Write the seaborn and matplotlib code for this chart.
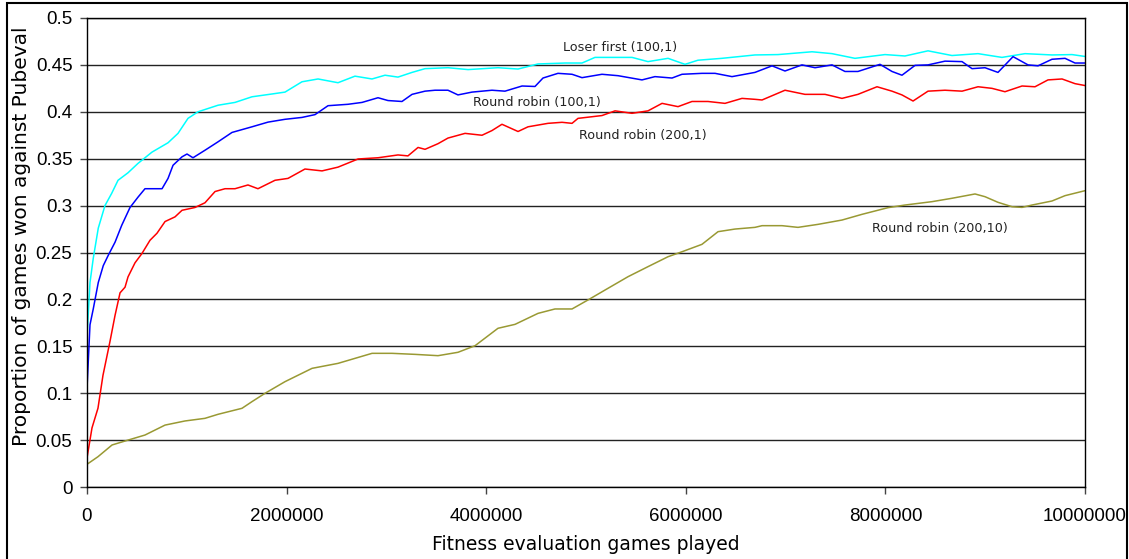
import matplotlib
matplotlib.use("Agg")
import matplotlib.pyplot as plt
import seaborn as sns
import pandas as pd
from matplotlib.patches import Rectangle

# ---------------- data ----------------
cyan_x = [0, 30000, 63000, 113000, 180000, 247000, 311000, 411000, 511000, 651000,
          812000, 912000, 1012000, 1112000, 1313000, 1483000, 1653000, 1854000, 1984000,
          2154000, 2315000, 2515000, 2685000, 2856000, 2986000, 3116000, 3257000, 3387000,
          3617000, 3818000, 4118000, 4319000, 4519000, 4790000, 4960000, 5090000, 5291000,
          5461000, 5621000, 5822000, 5992000, 6122000, 6362000, 6693000, 6924000, 7265000,
          7465000, 7695000, 7996000, 8196000, 8427000, 8667000, 8928000, 9168000, 9399000,
          9669000, 9870000, 10000000]
cyan_y = [0.160, 0.218, 0.244, 0.276, 0.300, 0.313, 0.327, 0.335, 0.345, 0.357,
          0.367, 0.377, 0.393, 0.400, 0.407, 0.410, 0.416, 0.419, 0.421,
          0.432, 0.435, 0.431, 0.438, 0.435, 0.439, 0.437, 0.442, 0.446,
          0.447, 0.445, 0.447, 0.4456, 0.451, 0.452, 0.452, 0.458, 0.458,
          0.458, 0.4535, 0.457, 0.4506, 0.455, 0.457, 0.4606, 0.461, 0.464,
          0.462, 0.457, 0.461, 0.4595, 0.465, 0.460, 0.462, 0.458, 0.462,
          0.4606, 0.461, 0.459]

blue_x = [0, 30000, 63000, 113000, 163000, 213000, 281000, 348000, 431000, 511000,
          581000, 752000, 812000, 862000, 952000, 1002000, 1062000, 1182000, 1313000,
          1453000, 1653000, 1814000, 1984000, 2154000, 2285000, 2415000, 2615000, 2756000,
          2916000, 3016000, 3156000, 3257000, 3387000, 3487000, 3617000, 3717000, 3858000,
          4058000, 4188000, 4359000, 4489000, 4569000, 4719000, 4860000, 4960000, 5160000,
          5321000, 5561000, 5691000, 5862000, 5962000, 6162000, 6293000, 6463000, 6693000,
          6864000, 6994000, 7164000, 7295000, 7465000, 7595000, 7725000, 7946000, 8066000,
          8166000, 8297000, 8427000, 8597000, 8768000, 8868000, 8998000, 9128000, 9279000,
          9429000, 9529000, 9669000, 9800000, 9900000, 10000000]
blue_y = [0.105, 0.173, 0.190, 0.218, 0.236, 0.247, 0.261, 0.279, 0.298, 0.309,
          0.318, 0.318, 0.329, 0.343, 0.352, 0.355, 0.351, 0.359, 0.368,
          0.378, 0.384, 0.389, 0.392, 0.394, 0.397, 0.4065, 0.408, 0.410,
          0.415, 0.412, 0.411, 0.4186, 0.422, 0.423, 0.423, 0.418, 0.421,
          0.423, 0.422, 0.4275, 0.427, 0.436, 0.441, 0.440, 0.4364, 0.440,
          0.4385, 0.434, 0.4375, 0.436, 0.440, 0.441, 0.441, 0.4375, 0.442,
          0.449, 0.4435, 0.450, 0.447, 0.450, 0.443, 0.443, 0.4506, 0.443,
          0.439, 0.4495, 0.450, 0.454, 0.4535, 0.446, 0.447, 0.442, 0.4588,
          0.450, 0.449, 0.456, 0.457, 0.452, 0.452]

red_x = [0, 50000, 110000, 160000, 230000, 281000, 331000, 381000, 411000, 481000,
         551000, 631000, 701000, 782000, 882000, 952000, 1082000, 1182000, 1283000,
         1383000, 1483000, 1613000, 1713000, 1884000, 2014000, 2184000, 2355000, 2515000,
         2716000, 2916000, 3116000, 3216000, 3317000, 3387000, 3517000, 3617000, 3788000,
         3958000, 4058000, 4158000, 4319000, 4419000, 4619000, 4760000, 4860000, 4920000,
         5160000, 5291000, 5461000, 5621000, 5762000, 5922000, 6062000, 6222000, 6393000,
         6563000, 6693000, 6764000, 6994000, 7194000, 7395000, 7565000, 7725000, 7916000,
         8066000, 8166000, 8277000, 8427000, 8597000, 8768000, 8928000, 9068000, 9198000,
         9369000, 9499000, 9629000, 9770000, 9900000, 10000000]
red_y = [0.031, 0.063, 0.084, 0.119, 0.155, 0.183, 0.207, 0.213, 0.224, 0.239,
         0.249, 0.263, 0.2705, 0.283, 0.288, 0.295, 0.298, 0.303, 0.315,
         0.318, 0.318, 0.322, 0.318, 0.327, 0.329, 0.339, 0.337, 0.341,
         0.3497, 0.351, 0.354, 0.353, 0.362, 0.360, 0.366, 0.372, 0.377,
         0.375, 0.380, 0.3867, 0.379, 0.384, 0.3877, 0.3888, 0.3877, 0.393,
         0.396, 0.401, 0.3984, 0.401, 0.409, 0.4055, 0.411, 0.411, 0.409,
         0.4143, 0.4133, 0.4126, 0.423, 0.4186, 0.4186, 0.4143, 0.4186, 0.4267,
         0.422, 0.418, 0.4115, 0.422, 0.423, 0.422, 0.4267, 0.425, 0.4214,
         0.4275, 0.4267, 0.434, 0.435, 0.430, 0.428]

olive_x = [0, 110000, 251000, 411000, 581000, 782000, 982000, 1182000, 1313000, 1553000,
           1653000, 1784000, 1984000, 2255000, 2515000, 2856000, 3056000, 3287000, 3517000,
           3717000, 3888000, 4118000, 4289000, 4519000, 4689000, 4860000, 5020000, 5220000,
           5421000, 5621000, 5822000, 5962000, 6162000, 6323000, 6493000, 6693000, 6764000,
           6964000, 7124000, 7325000, 7565000, 7766000, 8026000, 8196000, 8467000, 8667000,
           8898000, 8998000, 9128000, 9269000, 9369000, 9469000, 9669000, 9800000, 10000000]
olive_y = [0.0242, 0.0323, 0.0448, 0.050, 0.0554, 0.066, 0.0704, 0.0732, 0.0775, 0.0839,
           0.091, 0.0999, 0.1123, 0.1265, 0.1318, 0.1425, 0.1425, 0.1414, 0.140,
           0.1436, 0.1506, 0.1692, 0.1734, 0.1851, 0.1898, 0.1898, 0.1994, 0.2118,
           0.2242, 0.2349, 0.2455, 0.2508, 0.2587, 0.2722, 0.275, 0.2768, 0.2786,
           0.2786, 0.2768, 0.280, 0.2846, 0.2907, 0.2978, 0.3006, 0.3042, 0.3078,
           0.3124, 0.3095, 0.3035, 0.2988, 0.2981, 0.3006, 0.3049, 0.3106, 0.3159]

series_names = ["Loser first (100,1)", "Round robin (100,1)",
                "Round robin (200,1)", "Round robin (200,10)"]
series_colors = ["#00FFFF", "#0000FF", "#FF0000", "#999933"]

x_ticks = [0, 2000000, 4000000, 6000000, 8000000, 10000000]
x_tick_labels = ["0", "2000000", "4000000", "6000000", "8000000", "10000000"]
y_ticks = [0, 0.05, 0.1, 0.15, 0.2, 0.25, 0.3, 0.35, 0.4, 0.45, 0.5]
y_tick_labels = ["0", "0.05", "0.1", "0.15", "0.2", "0.25", "0.3", "0.35", "0.4", "0.45", "0.5"]

x_label = "Fitness evaluation games played"
y_label = "Proportion of games won against Pubeval"

# label anchor positions (data coords)
label_x = [5340000, 4510000, 5570000, 8550000]
label_y = [0.469, 0.410, 0.375, 0.276]

# ---------------- build frame ----------------
frames = []
for name, xs, ys in zip(series_names,
                        [cyan_x, blue_x, red_x, olive_x],
                        [cyan_y, blue_y, red_y, olive_y]):
    frames.append(pd.DataFrame({"games": xs, "prop": ys, "series": name}))
df = pd.concat(frames, ignore_index=True)

sns.set_theme(style="white")
plt.rcParams["font.family"] = ["Liberation Sans", "DejaVu Sans"]

fig = plt.figure(figsize=(11.29, 5.59), dpi=100)
ax = fig.add_axes([87 / 1129, 1 - 487 / 559, (1085 - 87) / 1129, (487 - 18) / 559])

sns.lineplot(data=df, x="games", y="prop", hue="series", hue_order=series_names,
             palette=dict(zip(series_names, series_colors)), estimator=None,
             linewidth=1.1, legend=False, ax=ax, sort=True)

ax.set_xlim(0, 10000000)
ax.set_ylim(0, 0.5)
ax.set_xticks(x_ticks)
ax.set_xticklabels(x_tick_labels)
ax.set_yticks(y_ticks)
ax.set_yticklabels(y_tick_labels)
ax.tick_params(axis="both", direction="out", length=5, width=1, color="#444444",
               labelsize=13.5, labelcolor="black", left=True, bottom=True)
ax.tick_params(axis="y", pad=5.5)
ax.tick_params(axis="x", pad=10)
ax.yaxis.grid(True, color="#222222", linewidth=1.0)
ax.xaxis.grid(False)
ax.set_axisbelow(True)
for s in ax.spines.values():
    s.set_visible(True)
    s.set_color("black")
    s.set_linewidth(1.0)

ax.set_xlabel(x_label, fontsize=13.5, family="DejaVu Sans", color="black")
ax.set_ylabel(y_label, fontsize=14.5, family="DejaVu Sans", color="black")
ax.xaxis.set_label_coords(0.5, (487 - 535) / 469)
ax.yaxis.set_label_coords((12 - 87) / 998, (487 - 236) / 469)
ax.xaxis.label.set_va("top")
ax.yaxis.label.set_va("top")

for name, lx, ly in zip(series_names, label_x, label_y):
    ax.text(lx, ly, name, ha="center", va="center", fontsize=9.2,
            family="DejaVu Sans", color="#222222")

# figure border
fig.patches.append(Rectangle((7 / 1129, -0.05), (1127 - 7) / 1129, 1 - 3 / 559 + 0.05,
                             transform=fig.transFigure, fill=False,
                             edgecolor="black", linewidth=1.5))

fig.savefig("out.png", dpi=100, facecolor="white")
